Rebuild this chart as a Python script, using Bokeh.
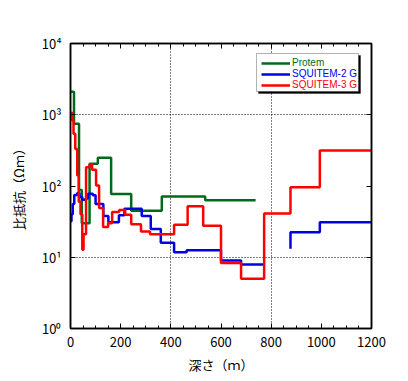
from bokeh.plotting import figure
from bokeh.models import (Range1d, LogAxis, LinearAxis, SingleIntervalTicker,
                          FixedTicker, Legend, LegendItem, BoxAnnotation,
                          CustomJSTickFormatter)
from bokeh.embed import file_html
from bokeh.resources import INLINE

# ---------------- data (layer boundaries in m, resistivity in ohm-m) -------------
green_depth = [0, 14, 34, 45, 76, 109, 162, 242, 364, 537, 738]
green_res = [2100, 746, 88, 30, 205, 249, 77, 45, 71, 63]

blue_depth = [0, 4, 9, 15, 27, 36, 47, 60, 70, 89, 100, 131, 151, 193, 215,
              284, 320, 360, 413, 463, 600, 680, 768]
blue_res = [32, 40, 56, 75, 80, 70, 64, 67, 78, 74, 56, 38, 31, 39, 48,
            38, 25, 16, 11.8, 12.5, 9.0, 7.9]

blue_deep_depth = [877, 877, 994, 1200]
blue_deep_res = [13.2, 22.5, 31]

red_depth = [0, 7, 12, 19, 27, 33, 40, 47, 52, 62, 76, 86, 102, 114, 130, 150,
             166, 194, 218, 242, 281, 317, 413, 467, 529, 600, 680, 772, 877,
             994, 1200]
red_res = [1065, 830, 540, 330, 140, 60, 40, 12.7, 21, 183, 200, 169, 102, 49,
           26.5, 30, 43, 46, 39.4, 29, 23, 21, 28.5, 52, 27.6, 8.3, 5.0, 41,
           96, 315]

series_names = ["Protem", "SQUITEM-2 G", "SQUITEM-3 G"]
series_colors = ["#006a1a", "#0000e6", "#ff0000"]

x_ticks_major = 200
y_decades = [1, 10, 100, 1000, 10000]
y_labels = {1: "10⁰", 10: "10¹", 100: "10²", 1000: "10³", 10000: "10⁴"}
grid_x = [400, 800]
grid_y = [10, 1000]

JP = "Noto Sans CJK JP"

p = figure(width=400, height=376, x_range=Range1d(0, 1200),
           y_range=Range1d(1, 10000), y_axis_type="log",
           output_backend="svg", toolbar_location=None,
           min_border_left=70, min_border_right=29,
           min_border_top=43, min_border_bottom=48)
p.background_fill_color = "white"
p.outline_line_color = "black"
p.outline_line_width = 1.5

xticker = SingleIntervalTicker(interval=x_ticks_major, num_minor_ticks=4)
yticker = FixedTicker(ticks=y_decades, minor_ticks=[])


def style_axis(ax, labels=True):
    ax.axis_line_color = "black"
    ax.axis_line_width = 1.5
    ax.major_tick_in = 5
    ax.major_tick_out = 0
    ax.minor_tick_in = 3
    ax.minor_tick_out = 0
    ax.major_tick_line_color = "black"
    ax.minor_tick_line_color = "black"
    if labels:
        ax.major_label_text_font = JP
        ax.major_label_text_font_size = "13px"
        ax.major_label_text_color = "black"
        ax.axis_label_text_font = JP
        ax.axis_label_text_font_size = "13px"
        ax.axis_label_text_font_style = "normal"
        ax.axis_label_text_color = "black"
    else:
        ax.formatter = CustomJSTickFormatter(code="return ''")
        ax.major_label_text_color = None
        ax.major_label_standoff = 0


xa = p.xaxis[0]
xa.ticker = xticker
style_axis(xa)
xa.major_label_standoff = 8
xa.axis_label = "深さ（ｍ）"
xa.axis_label_standoff = 5

ya = p.yaxis[0]
ya.ticker = yticker
style_axis(ya)
ya.major_label_overrides = y_labels
ya.major_label_standoff = 9
ya.axis_label = "比抵抗（Ωｍ）"
ya.axis_label_standoff = 11
ya.minor_tick_in = 0

top = LinearAxis(ticker=xticker)
style_axis(top, labels=False)
p.add_layout(top, "above")
right = LogAxis(ticker=yticker)
style_axis(right, labels=False)
right.minor_tick_in = 0
p.add_layout(right, "right")

p.xgrid.ticker = FixedTicker(ticks=grid_x)
p.ygrid.ticker = FixedTicker(ticks=grid_y)
for g in (p.xgrid[0], p.ygrid[0]):
    g.grid_line_color = "black"
    g.grid_line_width = 1
    g.grid_line_dash = "1 2"

LW = 2.5
r_green = p.step(green_depth, green_res + [green_res[-1]], mode="after",
                 line_color=series_colors[0], line_width=LW)
r_blue = p.step(blue_depth, blue_res + [blue_res[-1]], mode="after",
                line_color=series_colors[1], line_width=LW)
p.step(blue_deep_depth, blue_deep_res + [blue_deep_res[-1]], mode="after",
       line_color=series_colors[1], line_width=LW)
r_red = p.step(red_depth, red_res + [red_res[-1]], mode="after",
               line_color=series_colors[2], line_width=LW)

# ---------------- legend: shadow, box, and coloured entries ----------------
# screen units here are relative to the plot frame (x right, y up)
for dx, fill in ((2, "black"), (0, "white")):
    p.add_layout(BoxAnnotation(left=186 + dx, right=288 + dx,
                               top=275 - dx, bottom=237 - dx,
                               left_units="screen", right_units="screen",
                               top_units="screen", bottom_units="screen",
                               fill_color=fill, fill_alpha=1,
                               line_color="black", line_width=1,
                               level="annotation"))

rows_bottom = [260, 249, 238]
for name, color, rend, yb in zip(series_names, series_colors,
                                 [r_green, r_blue, r_red], rows_bottom):
    lg = Legend(items=[LegendItem(label=name, renderers=[rend])],
                location=(191, yb), padding=0, margin=0, spacing=0,
                label_standoff=2, glyph_width=29, glyph_height=10,
                label_height=10, label_text_font="Liberation Sans",
                label_text_font_size="10px", label_text_color=color,
                background_fill_alpha=0, border_line_alpha=0)
    p.add_layout(lg)

open("out.html", "w").write(file_html(p, INLINE))
